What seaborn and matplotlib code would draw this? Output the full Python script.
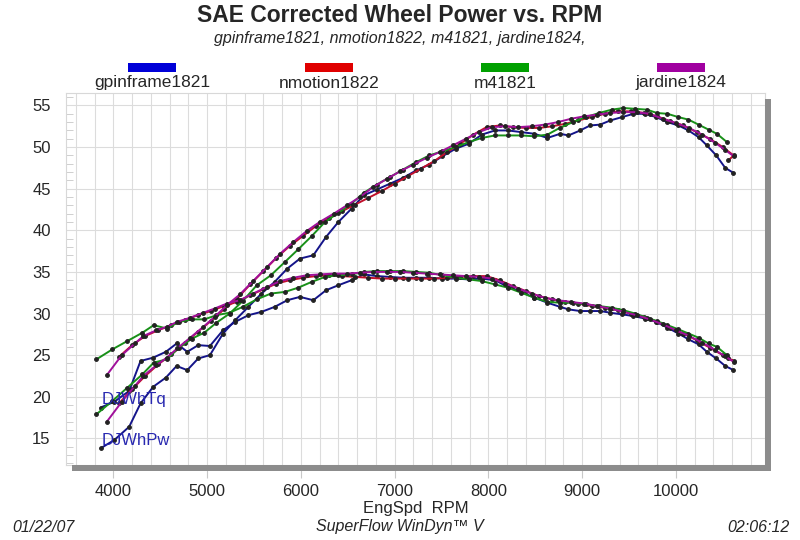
import matplotlib
matplotlib.use('Agg')
import matplotlib.pyplot as plt
from matplotlib.patches import Rectangle
from matplotlib.ticker import MultipleLocator
import seaborn as sns

# --- data ---
series_names = ['gpinframe1821', 'nmotion1822', 'm41821', 'jardine1824']
legend_colors = ['#0000d8', '#e00000', '#00a000', '#a000a0']
line_colors = ['#14148a', '#c0102a', '#189018', '#a0109a']

gp_rpm = [3863, 4010, 4169, 4290, 4425, 4560, 4675, 4788, 4905, 5030,
          5170, 5300, 5440, 5580, 5720, 5855, 5990, 6133, 6268, 6400,
          6540, 6670, 6810, 6950, 7090, 7230, 7370, 7510, 7650, 7790,
          7930, 8070, 8210, 8350, 8490, 8630, 8765, 8854, 8979, 9085,
          9192, 9300, 9424, 9547, 9670, 9790, 9910, 10027, 10134, 10241,
          10330, 10430, 10526, 10614]
gp_tq = [18.7, 19.4, 20.7, 24.3, 24.7, 25.4, 26.4, 25.4, 26.2, 26.1,
         28.0, 29.0, 29.8, 30.2, 30.8, 31.6, 32.0, 31.6, 32.8, 33.4,
         34.0, 34.7, 34.5, 34.4, 34.3, 34.3, 34.3, 34.2, 34.2, 34.1,
         34.2, 34.0, 33.2, 32.6, 31.9, 31.3, 30.8, 30.5, 30.3, 30.3,
         30.3, 30.1, 29.9, 29.7, 29.4, 29.0, 28.3, 27.6, 26.9, 26.3,
         25.4, 24.6, 23.7, 23.2]
gp_pw = [13.8, 14.8, 16.4, 19.2, 21.2, 22.3, 23.7, 23.2, 24.6, 25.0,
         27.6, 29.2, 30.8, 32.4, 33.8, 35.4, 36.6, 37.0, 39.2, 41.0,
         42.6, 44.2, 44.9, 45.6, 46.3, 47.2, 47.9, 48.9, 49.8, 50.4,
         51.5, 52.0, 52.0, 51.8, 51.6, 51.1, 51.6, 51.4, 52.0, 52.6,
         52.7, 53.2, 53.6, 54.0, 54.0, 53.6, 53.0, 52.6, 52.0, 51.2,
         50.2, 49.0, 47.5, 46.9]

nm_rpm = [4060, 4200, 4340, 4480, 4620, 4760, 4900, 5040, 5180, 5320,
          5460, 5600, 5740, 5880, 6020, 6160, 6300, 6440, 6580, 6720,
          6860, 7000, 7140, 7280, 7420, 7560, 7700, 7840, 7980, 8120,
          8260, 8400, 8540, 8680, 8820, 8960, 9100, 9240, 9380, 9520,
          9660, 9800, 9940, 10080, 10220, 10360, 10500, 10615, 10560]
nm_tq = [24.8, 26.2, 27.3, 28.0, 28.6, 29.2, 29.8, 30.3, 30.9, 31.4,
         32.2, 32.9, 33.6, 34.0, 34.3, 34.5, 34.6, 34.5, 34.4, 34.3,
         34.2, 34.2, 34.2, 34.2, 34.2, 34.3, 34.4, 34.5, 34.5, 34.0,
         33.3, 32.7, 32.1, 31.7, 31.4, 31.2, 30.9, 30.7, 30.4, 30.0,
         29.6, 29.0, 28.3, 27.6, 26.8, 25.9, 25.0, 24.3, 24.6]
nm_pw = [19.2, 20.9, 22.5, 23.9, 25.1, 26.4, 27.8, 29.1, 30.5, 31.8,
         33.5, 35.1, 36.7, 38.1, 39.3, 40.5, 41.5, 42.3, 43.1, 43.9,
         44.7, 45.6, 46.5, 47.4, 48.3, 49.4, 50.4, 51.5, 52.4, 52.6,
         52.4, 52.3, 52.3, 52.5, 52.8, 53.2, 53.6, 54.0, 54.3, 54.3,
         54.1, 53.7, 53.1, 52.6, 51.8, 51.0, 50.0, 49.0, 48.4]

m4_rpm = [3820, 3990, 4150, 4310, 4430, 4570, 4700, 4840, 4970, 5100,
          5240, 5380, 5530, 5680, 5830, 5970, 6115, 6257, 6400, 6540,
          6670, 6810, 6950, 7090, 7230, 7370, 7510, 7650, 7790, 7930,
          8070, 8210, 8350, 8490, 8630, 8760, 8900, 9040, 9180, 9317,
          9440, 9565, 9690, 9797, 9910, 10027, 10134, 10241, 10348, 10437,
          10544]
m4_tq = [24.5, 25.7, 26.7, 27.7, 28.6, 28.2, 29.0, 29.3, 29.3, 29.8,
         30.1, 30.8, 31.7, 32.4, 32.6, 33.1, 33.8, 34.4, 34.6, 34.7,
         35.0, 35.1, 35.1, 35.1, 35.0, 34.9, 34.6, 34.3, 34.1, 33.9,
         33.5, 33.1, 32.5, 31.9, 31.4, 31.3, 31.3, 31.1, 30.9, 30.7,
         30.4, 30.0, 29.5, 29.1, 28.6, 28.1, 27.6, 27.1, 26.4, 26.0,
         25.0]
m4_pw = [17.9, 19.5, 21.1, 22.7, 24.1, 24.5, 25.9, 27.0, 27.7, 28.9,
         30.0, 31.5, 33.4, 34.6, 36.2, 37.7, 39.3, 41.0, 42.1, 43.2,
         44.5, 45.5, 46.4, 47.3, 48.2, 49.0, 49.5, 50.0, 50.6, 51.1,
         51.4, 51.4, 51.4, 51.3, 51.5, 52.3, 53.0, 53.6, 54.1, 54.5,
         54.7, 54.6, 54.5, 54.1, 54.0, 53.6, 53.3, 52.7, 52.1, 51.6,
         50.6]

jd_rpm = [3930, 4090, 4230, 4320, 4460, 4570, 4680, 4820, 4960, 5080,
          5210, 5350, 5490, 5640, 5780, 5920, 6060, 6200, 6350, 6490,
          6630, 6770, 6920, 7060, 7200, 7340, 7480, 7620, 7760, 7900,
          8040, 8180, 8320, 8460, 8600, 8740, 8880, 9020, 9160, 9300,
          9440, 9580, 9720, 9860, 10000, 10140, 10280, 10420, 10520, 10615]
jd_tq = [22.6, 25.0, 26.4, 27.3, 28.0, 28.4, 29.0, 29.5, 30.1, 30.6,
         31.2, 31.6, 32.4, 33.2, 33.9, 34.3, 34.6, 34.7, 34.8, 34.8,
         34.9, 35.0, 35.0, 35.0, 34.9, 34.8, 34.7, 34.6, 34.5, 34.4,
         34.2, 33.6, 33.0, 32.4, 31.9, 31.6, 31.4, 31.2, 30.9, 30.6,
         30.2, 29.8, 29.3, 28.7, 28.0, 27.3, 26.5, 25.6, 24.9, 24.2]
jd_pw = [17.0, 19.4, 21.3, 22.5, 23.8, 24.7, 25.8, 27.1, 28.4, 29.6,
         31.0, 32.3, 33.9, 35.6, 37.2, 38.6, 39.9, 41.0, 42.0, 43.0,
         44.0, 45.2, 46.2, 47.1, 47.9, 48.7, 49.4, 50.2, 51.0, 51.8,
         52.4, 52.5, 52.4, 52.5, 52.7, 53.0, 53.4, 53.7, 53.9, 54.1,
         54.2, 54.2, 54.0, 53.4, 52.9, 52.3, 51.5, 50.5, 49.7, 48.9]

x_ticks = [4000, 5000, 6000, 7000, 8000, 9000, 10000]
y_ticks = [15, 20, 25, 30, 35, 40, 45, 50, 55]

sns.set_style('white')
plt.rcParams['font.family'] = ['Liberation Sans', 'DejaVu Sans']

fig = plt.figure(figsize=(8, 5.4), dpi=100)
ax = fig.add_axes([66 / 800, 1 - 465 / 540, 699 / 800, 372 / 540])

runs = [(gp_rpm, gp_tq, gp_pw), (nm_rpm, nm_tq, nm_pw),
        (m4_rpm, m4_tq, m4_pw), (jd_rpm, jd_tq, jd_pw)]
for (rpm, tq, pw), col in zip(runs, line_colors):
    for vals in (tq, pw):
        sns.lineplot(x=rpm, y=vals, ax=ax, color=col, lw=1.4, sort=False,
                     estimator=None, marker='o', markersize=2.7,
                     markerfacecolor='#222222', markeredgecolor='#222222')

ax.set_xlim(3495, 10950)
ax.set_ylim(11.8, 56.5)
ax.set_xticks(x_ticks)
ax.set_yticks(y_ticks)
ax.xaxis.set_minor_locator(MultipleLocator(200))
ax.yaxis.set_minor_locator(MultipleLocator(1))
ax.grid(which='both', axis='x', color='#dcdcdc', lw=0.8)
ax.grid(which='major', axis='y', color='#dcdcdc', lw=0.8)
ax.set_axisbelow(True)
ax.tick_params(axis='y', which='major', length=0, pad=11, labelsize=12)
ax.tick_params(axis='y', which='minor', direction='in', length=5,
               color='#c8c8c8', left=True)
ax.tick_params(axis='x', which='major', direction='out', length=9,
               color='#c8c8c8', pad=5, labelsize=12, bottom=True)
ax.tick_params(axis='x', which='minor', length=0)
for s in ax.spines.values():
    s.set_color('#d8d8d8')
    s.set_linewidth(0.8)

ax.set_xlabel('EngSpd  RPM', fontsize=12)
ax.xaxis.set_label_coords(0.5, -0.097)
ax.set_ylabel('')

ax.text(0.051, 0.177, 'DJWhTq', transform=ax.transAxes, color='#2828b0',
        fontsize=12, ha='left', va='center')
ax.text(0.051, 0.067, 'DJWhPw', transform=ax.transAxes, color='#2828b0',
        fontsize=12, ha='left', va='center')

# drop shadow on right and bottom
fig.add_artist(Rectangle((765 / 800, 1 - 471 / 540), 6 / 800, 372 / 540,
                         transform=fig.transFigure, color='#8c8c8c', lw=0))
fig.add_artist(Rectangle((72 / 800, 1 - 471 / 540), 699 / 800, 6 / 540,
                         transform=fig.transFigure, color='#8c8c8c', lw=0))

# titles
fig.text(0.5, 1 - 15 / 540, 'SAE Corrected Wheel Power vs. RPM', ha='center',
         va='center', fontsize=16.5, fontweight='bold')
fig.text(0.5, 1 - 38 / 540, 'gpinframe1821, nmotion1822, m41821, jardine1824,',
         ha='center', va='center', fontsize=11.5, style='italic')

# legend row
legend_x = [152, 329, 505, 681]
for name, col, cx in zip(series_names, legend_colors, legend_x):
    fig.add_artist(Rectangle(((cx - 24) / 800, 1 - 72 / 540), 48 / 800, 9 / 540,
                             transform=fig.transFigure, color=col, lw=0))
    fig.text(cx / 800, 1 - 83 / 540, name, ha='center', va='center', fontsize=12.5)

# footer
fig.text(12 / 800, 1 - 527 / 540, '01/22/07', ha='left', va='center',
         fontsize=11.5, style='italic')
fig.text(0.5, 1 - 527 / 540, 'SuperFlow WinDyn\u2122 V', ha='center', va='center',
         fontsize=11.5, style='italic')
fig.text(790 / 800, 1 - 527 / 540, '02:06:12', ha='right', va='center',
         fontsize=11.5, style='italic')

fig.savefig('out.png', dpi=100)
